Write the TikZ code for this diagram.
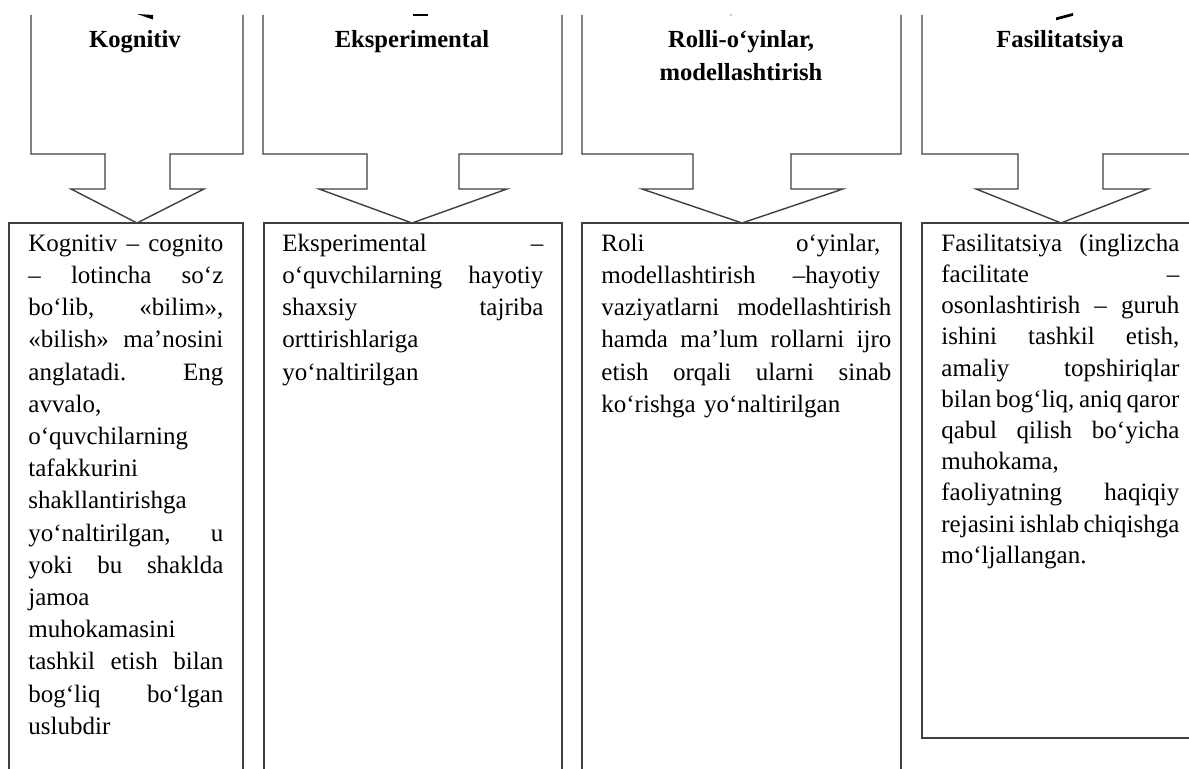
\documentclass[tikz,border=0pt]{standalone}
\usepackage{fontspec}
\setmainfont{Liberation Serif}
\newcommand\wsp{\hskip .25em plus 1fil minus .08em\relax}
\newcommand\jline[1]{\hbox to \linewidth{\rule{0pt}{10pt}#1}}
\newcommand\lline[1]{\hbox to \linewidth{\rule{0pt}{10pt}#1\hfil}}
\tikzset{
  frame/.style={draw=black!75, line width=0.7pt, line join=miter},
  titletext/.style={font=\fontsize{12.3}{16.5}\selectfont\bfseries, inner sep=0pt, anchor=north, align=center},
  bodytext/.style={font=\fontsize{12.5}{16.1}\selectfont, inner sep=0pt, anchor=north west},
  tipmark/.style={fill=black, draw=none}
}
\begin{document}
\begin{tikzpicture}[x=0.5pt,y=-0.5pt]
\clip (0,0) rectangle (1189,769);
\fill[white] (0,0) rectangle (1189,769);

% callouts (open at the top, cut off by the page)
\foreach \La/\Ra/\Sa/\Sb/\Wa/\Wb/\Tp in {31/243/105/170/71/204/137, 263/562/367/459/319/507/412, 582/901/693/791/642/843/742, 922/1200/1018/1103/976/1148/1061}
  \draw[frame] (\La,15) -- (\La,154) -- (\Sa,154) -- (\Sa,189) -- (\Wa,189) -- (\Tp,223) -- (\Wb,189) -- (\Sb,189) -- (\Sb,154) -- (\Ra,154) -- (\Ra,15);

% bottom boxes
\draw[frame] (9,769) -- (9,223) -- (243,223) -- (243,769);
\draw[frame] (264,769) -- (264,223) -- (562,223) -- (562,769);
\draw[frame] (582,769) -- (582,223) -- (901,223) -- (901,769);
\draw[frame] (922,738) rectangle (1200,223);

% remnants of arrow tips at the top edge
\fill[tipmark] (137,14) -- (153,15) -- (153,19.5) -- cycle;
\fill[tipmark] (413,14) rectangle (428,16.5);
\fill[black!40] (731,15) circle (0.8);
\fill[tipmark] (1056,17.5) -- (1073,13) -- (1073,15.8) -- (1056,20.3) -- cycle;

% titles
\node[titletext] (t1) at (135,27) {\rule{0pt}{10pt}Kognitiv};
\node[titletext] (t2) at (412,27) {\rule{0pt}{10pt}Eksperimental};
\node[titletext] (t3) at (741,27) {\rule{0pt}{10pt}Rolli-o‘yinlar,\\modellashtirish};
\node[titletext] (t4) at (1060,27) {\rule{0pt}{10pt}Fasilitatsiya};

% body texts
\node[bodytext, text width=97.5pt] (b1) at (28,231) {%
\jline{Kognitiv\wsp –\wsp cognito}
\jline{–\wsp lotincha\wsp so‘z}
\jline{bo‘lib,\wsp «bilim»,}
\jline{«bilish»\wsp ma’nosini}
\jline{anglatadi.\wsp Eng}
\lline{avvalo,}
\lline{o‘quvchilarning}
\lline{tafakkurini}
\lline{shakllantirishga}
\jline{yo‘naltirilgan,\wsp u}
\jline{yoki\wsp bu\wsp shaklda}
\lline{jamoa}
\lline{muhokamasini}
\jline{tashkil\wsp etish\wsp bilan}
\jline{bog‘liq\wsp bo‘lgan}
\lline{uslubdir}};

\node[bodytext, text width=130.5pt] (b2) at (282,231) {%
\jline{Eksperimental\wsp –}
\jline{o‘quvchilarning\wsp hayotiy}
\jline{shaxsiy\wsp tajriba}
\lline{orttirishlariga}
\lline{yo‘naltirilgan}};

\node[bodytext, text width=145pt] (b3) at (601,231) {%
\jline{Roli\wsp o‘yinlar,\hspace{5.5pt}}
\jline{modellashtirish\wsp –hayotiy\hspace{5.5pt}}
\jline{vaziyatlarni\wsp modellashtirish}
\jline{hamda\wsp ma’lum\wsp rollarni\wsp ijro}
\jline{etish\wsp orqali\wsp ularni\wsp sinab}
\lline{ko‘rishga yo‘naltirilgan}};

\node[bodytext, text width=119pt, font=\fontsize{12.5}{15.6}\selectfont] (b4) at (941,231) {%
\jline{Fasilitatsiya\wsp (inglizcha}
\jline{facilitate\wsp –}
\jline{osonlashtirish\wsp –\wsp guruh}
\jline{ishini\wsp tashkil\wsp etish,}
\jline{amaliy\wsp topshiriqlar}
\jline{bilan\wsp bog‘liq,\wsp aniq\wsp qaror}
\jline{qabul\wsp qilish\wsp bo‘yicha}
\lline{muhokama,}
\jline{faoliyatning\wsp haqiqiy}
\jline{rejasini\wsp ishlab\wsp chiqishga}
\lline{mo‘ljallangan.}};
\end{tikzpicture}
\end{document}
